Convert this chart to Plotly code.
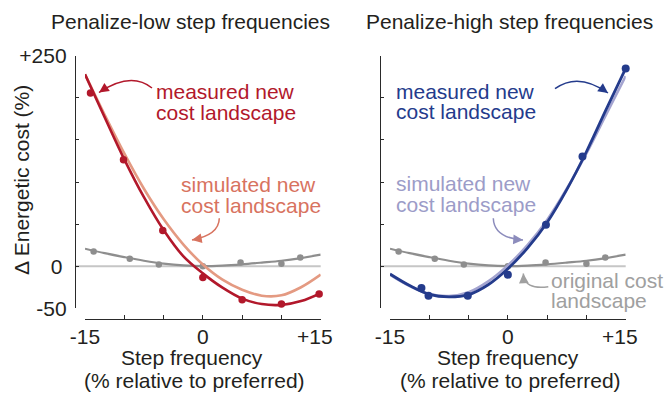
import plotly.graph_objects as go

W, H = 665, 397
FONT = "Liberation Sans, Arial, Helvetica, sans-serif"
FS = 21

# Colours
RED = "#B2182B"
SALMON_LINE = "#E49A82"
SALMON_TEXT = "#D8735F"
BLUE = "#243B8C"
LAV_LINE = "#A4A4D0"
LAV_TEXT = "#9C9CC8"
GRAY = "#8E8E8E"
GRAY_TEXT = "#A0A0A0"
ZERO_GRAY = "#C6C6C6"
INK = "#231F20"

# Step frequency grid for the fitted curves (% relative to preferred)
curve_x = [-15, -12.5, -10, -7.5, -5, -2.5, 0, 2.5, 5, 7.5, 10, 12.5, 15]

# Original cost landscape (same in both panels)
orig_pts_x = [-13.9, -9.3, -5.6, 0, 4.8, 10.0, 12.4]
orig_pts_y = [17.6, 8.9, 2.1, 0, 4.3, 3.0, 10.5]
orig_curve_y = [20.8, 15.5, 10.8, 6.5, 3.0, 0.9, 0.2, 0.8, 2.3, 4.3, 6.5, 9.7, 13.7]

# Penalize-low step frequencies
low_meas_pts_x = [-14.3, -10.1, -5.1, 0, 5.0, 10.0, 14.8]
low_meas_pts_y = [205.7, 126.5, 42.5, -13.3, -39.8, -45.0, -33.0]
low_meas_curve_y = [228, 177, 127, 82, 43, 12, -8.5, -25.5, -38.5, -45, -46, -41.4, -32]
low_sim_curve_y = [228, 180, 134, 92, 56, 26, 2, -16, -28, -35, -34.6, -25, -10]

# Penalize-high step frequencies
high_meas_pts_x = [-11.0, -10.1, -5.1, 0, 4.85, 9.5, 15.0]
high_meas_pts_y = [-25.9, -35.0, -35.0, -10.0, 49.3, 130.4, 235.0]
high_meas_curve_y = [-9.3, -23, -33.5, -36.5, -33.8, -22, -3, 21.6, 52, 91, 136, 186, 235]
high_sim_curve_y = [-10, -23.5, -33, -35.5, -31, -18, 1, 25, 55, 92, 134, 180, 226]

# Axis ticks
x_ticks = [-15, -10, -5, 0, 5, 10, 15]
x_ticktext = ["-15", "", "", "0", "", "", "+15\u00a0\u00a0"]
y_ticks = [-50, 0, 50, 100, 150, 200, 250]
y_ticktext = ["-50", "0\u2009", "", "", "", "", "+250"]


def px(x):
    return x / W


def py(y):
    return 1 - y / H


fig = go.Figure()


def line(x, y, color, width, xa, ya):
    fig.add_trace(go.Scatter(x=x, y=y, mode="lines", xaxis=xa, yaxis=ya,
                             line=dict(color=color, width=width, shape="spline", smoothing=1.0),
                             hoverinfo="skip", showlegend=False))


def dots(x, y, color, size, xa, ya):
    fig.add_trace(go.Scatter(x=x, y=y, mode="markers", xaxis=xa, yaxis=ya, cliponaxis=False,
                             marker=dict(color=color, size=size, line=dict(width=0)),
                             hoverinfo="skip", showlegend=False))


# Left panel
line(curve_x, orig_curve_y, GRAY, 2.2, "x", "y")
dots(orig_pts_x, orig_pts_y, GRAY, 6.5, "x", "y")
line(curve_x, low_sim_curve_y, SALMON_LINE, 2.6, "x", "y")
line(curve_x, low_meas_curve_y, RED, 2.6, "x", "y")
dots(low_meas_pts_x, low_meas_pts_y, RED, 7.5, "x", "y")

# Right panel
line(curve_x, orig_curve_y, GRAY, 2.2, "x2", "y2")
dots(orig_pts_x, orig_pts_y, GRAY, 6.5, "x2", "y2")
line(curve_x, high_sim_curve_y, LAV_LINE, 2.6, "x2", "y2")
line(curve_x, high_meas_curve_y, BLUE, 2.8, "x2", "y2")
dots(high_meas_pts_x, high_meas_pts_y, BLUE, 8, "x2", "y2")

XPOS = py(319)
YDOM = [py(308.3), py(55.8)]


def xaxis(dom):
    return dict(domain=dom, range=[-15, 15], anchor="free", position=XPOS, automargin=False,
                showline=True, linecolor="#2a2a2a", linewidth=1.3,
                ticks="inside", ticklen=4, tickwidth=1.2, tickcolor="#2a2a2a",
                tickvals=x_ticks, ticktext=x_ticktext, ticklabelstandoff=-1,
                tickfont=dict(family=FONT, size=FS, color=INK),
                showgrid=False, zeroline=False, fixedrange=True)


def yaxis(pos, labels):
    return dict(domain=YDOM, range=[-50, 250], anchor="free", position=pos, side="left",
                automargin=False,
                showline=True, linecolor="#2a2a2a", linewidth=1.3,
                ticks="inside", ticklen=3, tickwidth=1.2, tickcolor="#2a2a2a",
                tickvals=y_ticks, ticktext=y_ticktext, showticklabels=labels,
                ticklabelstandoff=4,
                tickfont=dict(family=FONT, size=FS, color=INK),
                showgrid=False, zeroline=False, fixedrange=True)


fig.update_layout(
    width=W, height=H, margin=dict(l=0, r=0, t=0, b=0, pad=0, autoexpand=False),
    paper_bgcolor="white", plot_bgcolor="rgba(0,0,0,0)",
    font=dict(family=FONT, size=FS, color=INK),
    xaxis=xaxis([px(85), px(320.7)]),
    yaxis=yaxis(px(75), True),
    xaxis2=xaxis([px(390), px(625.7)]),
    yaxis2=yaxis(px(380), False),
)

# Zero reference lines, starting at each y-axis
for xref_left, xref_right, yref in [(75, 320.7, "y"), (380, 625.7, "y2")]:
    fig.add_shape(type="line", xref="paper", yref=yref, x0=px(xref_left), x1=px(xref_right),
                  y0=0, y1=0, line=dict(color=ZERO_GRAY, width=2), layer="below")


def text(s, x, baseline, color, anchor="center", size=FS, angle=0):
    # place text by its baseline (pixel coordinates)
    fig.add_annotation(text=s, x=px(x), y=py(baseline - 0.3465 * size), xref="paper", yref="paper",
                       xanchor=anchor, yanchor="middle", showarrow=False, borderpad=0,
                       textangle=angle, font=dict(family=FONT, size=size, color=color))


# Panel titles
text("Penalize-low step frequencies", 191, 29, INK)
text("Penalize-high step frequencies", 509, 29, INK)

# Axis titles
fig.add_annotation(text="\u0394 Energetic cost (%)", x=px(21), y=py(180), xref="paper", yref="paper",
                   xanchor="center", yanchor="middle", showarrow=False, textangle=-90, borderpad=0,
                   font=dict(family=FONT, size=FS, color=INK))
for cx in (192, 508):
    text("Step frequency", cx, 365, INK)
    text("(% relative to preferred)", cx + 2, 388, INK)

# Curve labels
text("measured new", 155, 99, RED, "left")
text("cost landscape", 155, 120, RED, "left")
text("simulated new", 180, 192, SALMON_TEXT, "left")
text("cost landscape", 180, 213, SALMON_TEXT, "left")
text("measured new", 395, 99, BLUE, "left")
text("cost landscape", 395, 119, BLUE, "left")
text("simulated new", 395, 191, LAV_TEXT, "left")
text("cost landscape", 395, 212, LAV_TEXT, "left")
text("original cost", 550, 288, GRAY_TEXT, "left")
text("landscape", 550, 308, GRAY_TEXT, "left")


# Curved pointer arrows: quadratic path plus a short arrowhead at the tip
def curved_arrow(start, ctrl, tip, color):
    path = "M {},{} Q {},{} {},{}".format(px(start[0]), py(start[1]), px(ctrl[0]), py(ctrl[1]),
                                          px(tip[0]), py(tip[1]))
    fig.add_shape(type="path", path=path, xref="paper", yref="paper",
                  line=dict(color=color, width=1.5))
    dx, dy = ctrl[0] - tip[0], ctrl[1] - tip[1]
    n = (dx * dx + dy * dy) ** 0.5
    fig.add_annotation(text="", x=px(tip[0]), y=py(tip[1]), xref="paper", yref="paper",
                       ax=dx / n * 7, ay=dy / n * 7, showarrow=True, arrowhead=2,
                       arrowsize=1.3, arrowwidth=1.5, arrowcolor=color, standoff=0)


curved_arrow((152, 88), (131, 71), (99, 92.5), RED)
curved_arrow((219.3, 218.3), (219, 235), (192, 240), SALMON_TEXT)
curved_arrow((555, 88.7), (578.3, 71.8), (608, 93), BLUE)
curved_arrow((493.3, 218.3), (494, 238), (523, 240), "#8C8CBC")
curved_arrow((548.3, 286.7), (524.2, 290), (523.3, 273.5), GRAY_TEXT)

fig.write_html("out.html")
